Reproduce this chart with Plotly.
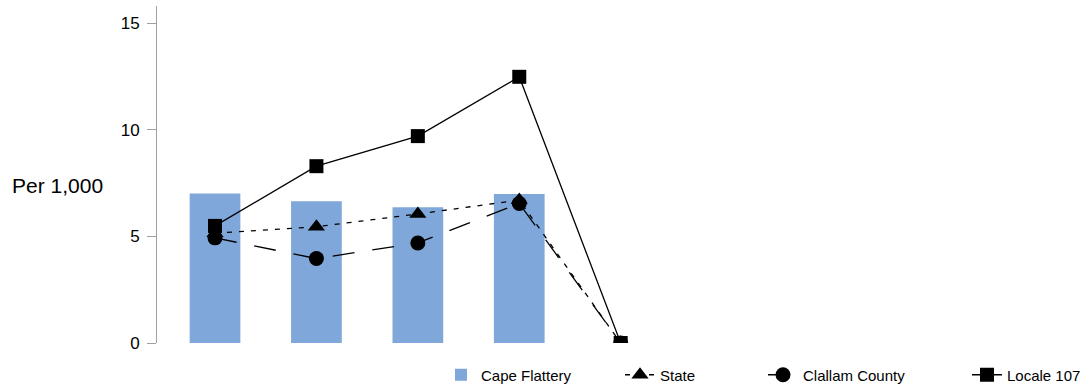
import plotly.graph_objects as go

categories = ["1", "2", "3", "4", "5"]
cape_flattery = [7.01, 6.64, 6.36, 6.98, None]
state = [5.15, 5.45, 6.05, 6.7, 0]
clallam_county = [4.93, 3.96, 4.69, 6.54, 0]
locale_107 = [5.49, 8.29, 9.70, 12.48, 0]
y_ticks = [0, 5, 10, 15]

FONT = "Liberation Sans, Arial, sans-serif"

fig = go.Figure()
fig.add_trace(go.Bar(
    x=categories, y=cape_flattery, name="Cape Flattery", legend="legend",
    marker=dict(color="#7FA7D9", line=dict(width=0)), width=0.5,
))
fig.add_trace(go.Scatter(
    x=categories, y=state, name="State", mode="lines+markers", legend="legend2",
    line=dict(color="black", width=1.3, dash="5px,7px"),
    marker=dict(symbol="triangle-up", size=15, color="black"),
))
fig.add_trace(go.Scatter(
    x=categories, y=clallam_county, name="Clallam County", mode="lines+markers", legend="legend3",
    line=dict(color="black", width=1.3, dash="22px,18px"),
    marker=dict(symbol="circle", size=15, color="black"),
))
fig.add_trace(go.Scatter(
    x=categories, y=locale_107, name="Locale 107", mode="lines+markers", legend="legend4",
    line=dict(color="black", width=1.3),
    marker=dict(symbol="square", size=14, color="black"),
))


def legend_at(left_px):
    return dict(orientation="h", xref="container", yref="container",
                x=left_px / 1084, xanchor="left", y=(388 - 375) / 388, yanchor="middle",
                font=dict(size=15, family=FONT), bgcolor="rgba(0,0,0,0)")


fig.update_layout(
    width=1084, height=388,
    margin=dict(l=157, r=10, t=6, b=45, autoexpand=False),
    paper_bgcolor="white", plot_bgcolor="white",
    font=dict(family=FONT, color="black"),
    showlegend=True,
    legend=legend_at(441),
    legend2=legend_at(620),
    legend3=legend_at(763),
    legend4=legend_at(967),
    bargap=0.5,
    annotations=[dict(text="Per 1,000", xref="paper", yref="paper",
                      x=(10 - 157) / 917, xanchor="left", y=(343 - 185) / 337, yanchor="middle",
                      showarrow=False, font=dict(size=21, family=FONT))],
)
fig.update_xaxes(type="category", range=[-0.572, 8.47], showline=False, showticklabels=False,
                 ticks="", showgrid=False, zeroline=False)
fig.update_yaxes(range=[0, 15.8], tickvals=y_ticks, showline=True, linecolor="#A0A0A0", linewidth=1,
                 ticks="outside", ticklen=9, tickcolor="#A0A0A0", showgrid=False, zeroline=False,
                 tickfont=dict(size=17, family=FONT), ticklabelstandoff=4)

fig.write_html("out.html", config={"displayModeBar": False},
               post_script="document.body.style.margin='0';document.body.style.overflow='hidden';")
